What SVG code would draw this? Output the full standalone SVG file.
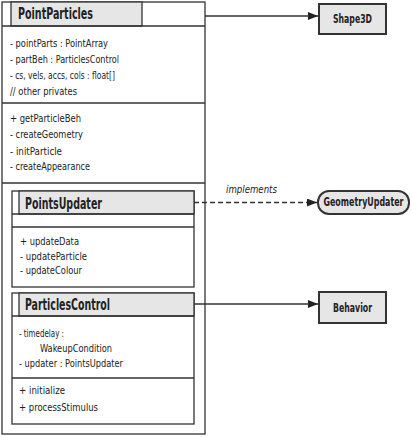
<svg xmlns="http://www.w3.org/2000/svg" width="412" height="437" viewBox="0 0 412 437">
<style>
.box{fill:#fff;stroke:#333;stroke-width:1.3}
.hd{fill:#e6e6e6;stroke:#333;stroke-width:1.3}
.ln{stroke:#333;stroke-width:1.3;fill:none}
.t{font-family:"DejaVu Sans Condensed","DejaVu Sans",sans-serif;font-size:10.5px;fill:#222}
.ti{font-family:"DejaVu Sans Condensed","DejaVu Sans",sans-serif;font-size:15px;font-weight:bold;fill:#222}
.tb{font-family:"DejaVu Sans Condensed","DejaVu Sans",sans-serif;font-size:11.5px;font-weight:bold;fill:#222}
.it{font-family:"DejaVu Sans Condensed","DejaVu Sans",sans-serif;font-size:10.5px;font-style:italic;fill:#222}
.ext{fill:#e6e6e6;stroke:#333;stroke-width:2}
</style>
<defs>
<marker id="ah" viewBox="0 0 10 8" refX="10" refY="4" markerWidth="10" markerHeight="8" markerUnits="userSpaceOnUse" orient="auto">
<path d="M0,0 L10,4 L0,8 Z" fill="#222"/>
</marker>
</defs>
<g id="PointParticles">
<rect class="box" x="2" y="2" width="203" height="432"/>
<rect class="hd" x="11" y="2" width="131" height="24"/>
<line class="ln" x1="2" y1="26" x2="205" y2="26"/>
<line class="ln" x1="2" y1="103" x2="205" y2="103"/>
<line class="ln" x1="2" y1="183" x2="205" y2="183"/>
<text class="ti" x="18" y="18.5" textLength="75" lengthAdjust="spacingAndGlyphs">PointParticles</text>
<text class="t" x="10" y="47" textLength="98" lengthAdjust="spacingAndGlyphs">- pointParts : PointArray</text>
<text class="t" x="10" y="63" textLength="109" lengthAdjust="spacingAndGlyphs">- partBeh : ParticlesControl</text>
<text class="t" x="10" y="79" textLength="105" lengthAdjust="spacingAndGlyphs">- cs, vels, accs, cols : float[]</text>
<text class="t" x="10" y="95" textLength="67" lengthAdjust="spacingAndGlyphs">// other privates</text>
<text class="t" x="10" y="122" textLength="71" lengthAdjust="spacingAndGlyphs">+ getParticleBeh</text>
<text class="t" x="10" y="138" textLength="73" lengthAdjust="spacingAndGlyphs">- createGeometry</text>
<text class="t" x="10" y="155" textLength="52" lengthAdjust="spacingAndGlyphs">- initParticle</text>
<text class="t" x="10" y="170" textLength="80" lengthAdjust="spacingAndGlyphs">- createAppearance</text>
</g>
<g id="PointsUpdater">
<rect class="box" x="12" y="191" width="182" height="96"/>
<rect class="hd" x="19" y="191" width="175" height="23"/>
<line class="ln" x1="12" y1="214" x2="194" y2="214"/>
<line class="ln" x1="12" y1="227" x2="194" y2="227"/>
<text class="ti" x="25" y="208.5" textLength="77" lengthAdjust="spacingAndGlyphs">PointsUpdater</text>
<text class="t" x="20" y="245" textLength="59" lengthAdjust="spacingAndGlyphs">+ updateData</text>
<text class="t" x="20" y="260" textLength="67" lengthAdjust="spacingAndGlyphs">- updateParticle</text>
<text class="t" x="20" y="274" textLength="62" lengthAdjust="spacingAndGlyphs">- updateColour</text>
</g>
<g id="ParticlesControl">
<rect class="box" x="12" y="293" width="182" height="131"/>
<rect class="hd" x="19" y="293" width="175" height="23"/>
<line class="ln" x1="12" y1="316" x2="194" y2="316"/>
<line class="ln" x1="12" y1="378" x2="194" y2="378"/>
<text class="ti" x="25" y="309.5" textLength="85" lengthAdjust="spacingAndGlyphs">ParticlesControl</text>
<text class="t" x="19" y="337" textLength="45" lengthAdjust="spacingAndGlyphs">- timedelay :</text>
<text class="t" x="40" y="352" textLength="72" lengthAdjust="spacingAndGlyphs">WakeupCondition</text>
<text class="t" x="19" y="367" textLength="104" lengthAdjust="spacingAndGlyphs">- updater : PointsUpdater</text>
<text class="t" x="19" y="394" textLength="46" lengthAdjust="spacingAndGlyphs">+ initialize</text>
<text class="t" x="19" y="411" textLength="79" lengthAdjust="spacingAndGlyphs">+ processStimulus</text>
</g>
<g id="Shape3D">
<rect class="ext" x="319" y="4" width="67" height="30"/>
<text class="tb" x="352.5" y="23" text-anchor="middle" textLength="39" lengthAdjust="spacingAndGlyphs">Shape3D</text>
</g>
<g id="GeometryUpdater">
<rect class="ext" x="318" y="191" width="91" height="23" rx="11" ry="11"/>
<text class="tb" x="363.5" y="206" text-anchor="middle" font-size="9.5" textLength="80" lengthAdjust="spacingAndGlyphs">GeometryUpdater</text>
</g>
<g id="Behavior">
<rect class="ext" x="319" y="292" width="67" height="31"/>
<text class="tb" x="352.5" y="311.5" text-anchor="middle" textLength="39" lengthAdjust="spacingAndGlyphs">Behavior</text>
</g>
<g id="connectors">
<line class="ln" x1="205" y1="16" x2="318" y2="16" marker-end="url(#ah)"/>
<line class="ln" x1="194" y1="202.5" x2="317" y2="202.5" stroke-dasharray="5,3" marker-end="url(#ah)"/>
<text class="it" x="226" y="193" textLength="51" lengthAdjust="spacingAndGlyphs">implements</text>
<line class="ln" x1="194" y1="304" x2="318" y2="304" marker-end="url(#ah)"/>
</g>
</svg>
